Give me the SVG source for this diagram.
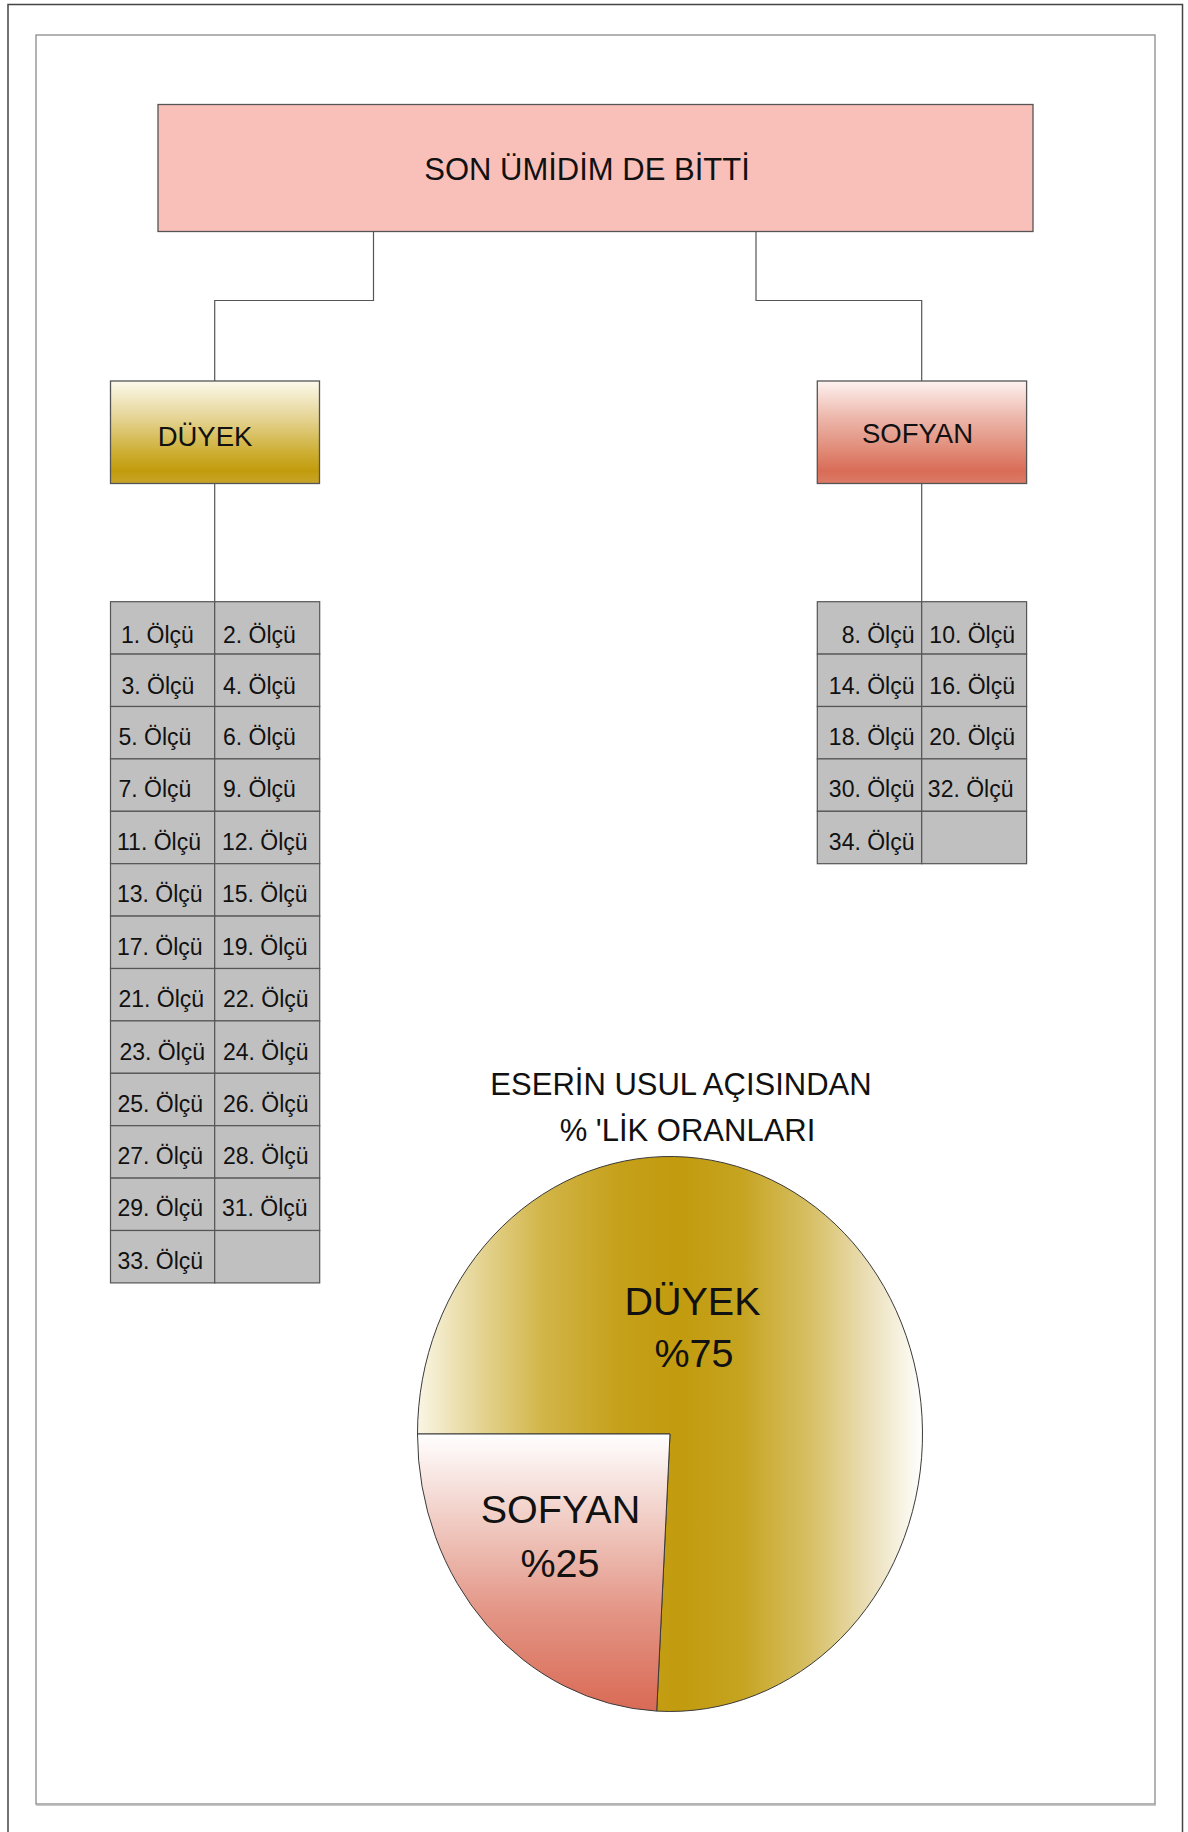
<svg xmlns="http://www.w3.org/2000/svg" width="1188" height="1832" viewBox="0 0 1188 1832">
  <defs>
    <linearGradient id="gDuyekBox" x1="0" y1="0" x2="0" y2="1">
      <stop offset="0" stop-color="#FCF9EC"/>
      <stop offset="0.35" stop-color="#E6D597"/>
      <stop offset="0.7" stop-color="#CDAE33"/>
      <stop offset="0.88" stop-color="#C29B0C"/>
      <stop offset="1" stop-color="#C7A52B"/>
    </linearGradient>
    <linearGradient id="gSofyanBox" x1="0" y1="0" x2="0" y2="1">
      <stop offset="0" stop-color="#FDF2F0"/>
      <stop offset="0.35" stop-color="#EDB8AC"/>
      <stop offset="0.7" stop-color="#DF8773"/>
      <stop offset="0.88" stop-color="#D96C57"/>
      <stop offset="1" stop-color="#DC7B67"/>
    </linearGradient>
    <linearGradient id="gDuyekPie" gradientUnits="userSpaceOnUse" x1="417" y1="0" x2="923" y2="0">
      <stop offset="0" stop-color="#FAF6E6"/>
      <stop offset="0.1" stop-color="#E8DAA2"/>
      <stop offset="0.25" stop-color="#D2B548"/>
      <stop offset="0.4" stop-color="#C5A01A"/>
      <stop offset="0.52" stop-color="#C29B0E"/>
      <stop offset="0.64" stop-color="#C6A420"/>
      <stop offset="0.78" stop-color="#D7C067"/>
      <stop offset="0.9" stop-color="#ECE1BC"/>
      <stop offset="1" stop-color="#FFFFFF"/>
    </linearGradient>
    <linearGradient id="gSofyanPie" gradientUnits="userSpaceOnUse" x1="0" y1="1434" x2="0" y2="1711">
      <stop offset="0" stop-color="#FFFFFF"/>
      <stop offset="0.3" stop-color="#F1CEC6"/>
      <stop offset="0.65" stop-color="#E39484"/>
      <stop offset="1" stop-color="#D96A55"/>
    </linearGradient>
  </defs>
  <style>
    .frame { fill: none; }
    .box { stroke: #555555; stroke-width: 1.3; }
    .cell { fill: #C0C0C0; stroke: #555555; stroke-width: 1.2; }
    .lbl { font-family: "Liberation Sans", Arial, sans-serif; fill: #111111; }
    .head { font-size: 31px; text-anchor: middle; }
    .sub { font-size: 27.5px; text-anchor: middle; }
    .c { font-size: 23px; }
    .r { text-anchor: end; }
    .chart { font-size: 31px; text-anchor: middle; }
    .pie { font-size: 39.5px; text-anchor: middle; }
    .link { fill: none; stroke: #555555; stroke-width: 1.2; }
    .slice { stroke: #3A3A3A; stroke-width: 1; }
  </style>

  <rect width="1188" height="1832" fill="#FFFFFF"/>

  <!-- page borders -->
  <path class="frame" d="M8,1832 V4.5 H1182.5 V1832" stroke="#444444" stroke-width="1.5"/>
  <rect class="frame" x="36" y="35" width="1119" height="1769" stroke="#8A8A8A" stroke-width="1.3"/>
  <line x1="36" y1="1805" x2="1156" y2="1805" stroke="#B5B5B5" stroke-width="1.5"/>

  <!-- connectors -->
  <g id="connectors">
    <path class="link" d="M373.5,231.5 V300.5 H214.7 V381"/>
    <path class="link" d="M756,231.5 V300.5 H921.7 V381"/>
    <path class="link" d="M214.7,483.5 V601.7"/>
    <path class="link" d="M921.7,483.5 V601.7"/>
  </g>

  <!-- root -->
  <g id="title">
    <rect class="box" x="158" y="104.5" width="875" height="127" fill="#F9C0BA"/>
    <text class="lbl head" x="587" y="180">SON ÜMİDİM DE BİTTİ</text>
  </g>

  <g id="duyek">
    <rect class="box" x="110.5" y="381" width="209" height="102.5" fill="url(#gDuyekBox)"/>
    <text class="lbl sub" x="205" y="446">DÜYEK</text>
  </g>

  <g id="sofyan">
    <rect class="box" x="817.3" y="381" width="209.3" height="102.5" fill="url(#gSofyanBox)"/>
    <text class="lbl sub" x="917.5" y="443">SOFYAN</text>
  </g>

  <!-- measures in düyek -->
  <g id="duyek-measures">
    <rect class="cell" x="110.5" y="601.7" width="104.2" height="52.4"/>
    <rect class="cell" x="214.7" y="601.7" width="105" height="52.4"/>
    <rect class="cell" x="110.5" y="654.1" width="104.2" height="52.4"/>
    <rect class="cell" x="214.7" y="654.1" width="105" height="52.4"/>
    <rect class="cell" x="110.5" y="706.5" width="104.2" height="52.4"/>
    <rect class="cell" x="214.7" y="706.5" width="105" height="52.4"/>
    <rect class="cell" x="110.5" y="758.9" width="104.2" height="52.4"/>
    <rect class="cell" x="214.7" y="758.9" width="105" height="52.4"/>
    <rect class="cell" x="110.5" y="811.3" width="104.2" height="52.4"/>
    <rect class="cell" x="214.7" y="811.3" width="105" height="52.4"/>
    <rect class="cell" x="110.5" y="863.7" width="104.2" height="52.4"/>
    <rect class="cell" x="214.7" y="863.7" width="105" height="52.4"/>
    <rect class="cell" x="110.5" y="916.1" width="104.2" height="52.4"/>
    <rect class="cell" x="214.7" y="916.1" width="105" height="52.4"/>
    <rect class="cell" x="110.5" y="968.5" width="104.2" height="52.4"/>
    <rect class="cell" x="214.7" y="968.5" width="105" height="52.4"/>
    <rect class="cell" x="110.5" y="1020.9" width="104.2" height="52.4"/>
    <rect class="cell" x="214.7" y="1020.9" width="105" height="52.4"/>
    <rect class="cell" x="110.5" y="1073.3" width="104.2" height="52.4"/>
    <rect class="cell" x="214.7" y="1073.3" width="105" height="52.4"/>
    <rect class="cell" x="110.5" y="1125.7" width="104.2" height="52.4"/>
    <rect class="cell" x="214.7" y="1125.7" width="105" height="52.4"/>
    <rect class="cell" x="110.5" y="1178.1" width="104.2" height="52.4"/>
    <rect class="cell" x="214.7" y="1178.1" width="105" height="52.4"/>
    <rect class="cell" x="110.5" y="1230.5" width="104.2" height="52.4"/>
    <rect class="cell" x="214.7" y="1230.5" width="105" height="52.4"/>

    <text class="lbl c" x="121" y="642.7">1. Ölçü</text>
    <text class="lbl c" x="223" y="642.7">2. Ölçü</text>
    <text class="lbl c" x="121.5" y="694.3">3. Ölçü</text>
    <text class="lbl c" x="223" y="694.3">4. Ölçü</text>
    <text class="lbl c" x="118.5" y="745.3">5. Ölçü</text>
    <text class="lbl c" x="223" y="745.3">6. Ölçü</text>
    <text class="lbl c" x="118.5" y="797">7. Ölçü</text>
    <text class="lbl c" x="223" y="797">9. Ölçü</text>
    <text class="lbl c" x="117" y="849.5">11. Ölçü</text>
    <text class="lbl c" x="222" y="849.5">12. Ölçü</text>
    <text class="lbl c" x="117" y="902">13. Ölçü</text>
    <text class="lbl c" x="222" y="902">15. Ölçü</text>
    <text class="lbl c" x="117" y="954.5">17. Ölçü</text>
    <text class="lbl c" x="222" y="954.5">19. Ölçü</text>
    <text class="lbl c" x="118.5" y="1007">21. Ölçü</text>
    <text class="lbl c" x="223" y="1007">22. Ölçü</text>
    <text class="lbl c" x="119.5" y="1060">23. Ölçü</text>
    <text class="lbl c" x="223" y="1060">24. Ölçü</text>
    <text class="lbl c" x="117.5" y="1112">25. Ölçü</text>
    <text class="lbl c" x="223" y="1112">26. Ölçü</text>
    <text class="lbl c" x="117.5" y="1164.3">27. Ölçü</text>
    <text class="lbl c" x="223" y="1164.3">28. Ölçü</text>
    <text class="lbl c" x="117.5" y="1216.3">29. Ölçü</text>
    <text class="lbl c" x="222" y="1216.3">31. Ölçü</text>
    <text class="lbl c" x="117.5" y="1268.5">33. Ölçü</text>
  </g>

  <!-- measures in sofyan -->
  <g id="sofyan-measures">
    <rect class="cell" x="817.3" y="601.7" width="104.4" height="52.4"/>
    <rect class="cell" x="921.7" y="601.7" width="104.9" height="52.4"/>
    <rect class="cell" x="817.3" y="654.1" width="104.4" height="52.4"/>
    <rect class="cell" x="921.7" y="654.1" width="104.9" height="52.4"/>
    <rect class="cell" x="817.3" y="706.5" width="104.4" height="52.4"/>
    <rect class="cell" x="921.7" y="706.5" width="104.9" height="52.4"/>
    <rect class="cell" x="817.3" y="758.9" width="104.4" height="52.4"/>
    <rect class="cell" x="921.7" y="758.9" width="104.9" height="52.4"/>
    <rect class="cell" x="817.3" y="811.3" width="104.4" height="52.4"/>
    <rect class="cell" x="921.7" y="811.3" width="104.9" height="52.4"/>

    <text class="lbl c r" x="914.5" y="643.3">8. Ölçü</text>
    <text class="lbl c r" x="1015" y="643.3">10. Ölçü</text>
    <text class="lbl c r" x="914.5" y="693.8">14. Ölçü</text>
    <text class="lbl c r" x="1015" y="693.8">16. Ölçü</text>
    <text class="lbl c r" x="914.5" y="745.3">18. Ölçü</text>
    <text class="lbl c r" x="1015" y="745.3">20. Ölçü</text>
    <text class="lbl c r" x="914.5" y="797">30. Ölçü</text>
    <text class="lbl c r" x="1013.5" y="797">32. Ölçü</text>
    <text class="lbl c r" x="914.5" y="849.5">34. Ölçü</text>
  </g>

  <!-- share chart -->
  <g id="chart-title">
    <text class="lbl chart" x="681" y="1095">ESERİN USUL AÇISINDAN</text>
    <text class="lbl chart" x="687.5" y="1140.5">% 'LİK ORANLARI</text>
  </g>

  <g id="pie-duyek">
    <path class="slice" fill="url(#gDuyekPie)" d="M670,1434 L417.5,1434 A252.5,277.5 0 1 1 656.7,1711.1 Z"/>
    <text class="lbl pie" x="692.5" y="1315">DÜYEK</text>
    <text class="lbl pie" x="694" y="1367">%75</text>
  </g>

  <g id="pie-sofyan">
    <path class="slice" fill="url(#gSofyanPie)" d="M670,1434 L656.7,1711.1 A252.5,277.5 0 0 1 417.5,1434 Z"/>
    <text class="lbl pie" x="560.5" y="1523.3">SOFYAN</text>
    <text class="lbl pie" x="560" y="1576.7">%25</text>
  </g>
</svg>
